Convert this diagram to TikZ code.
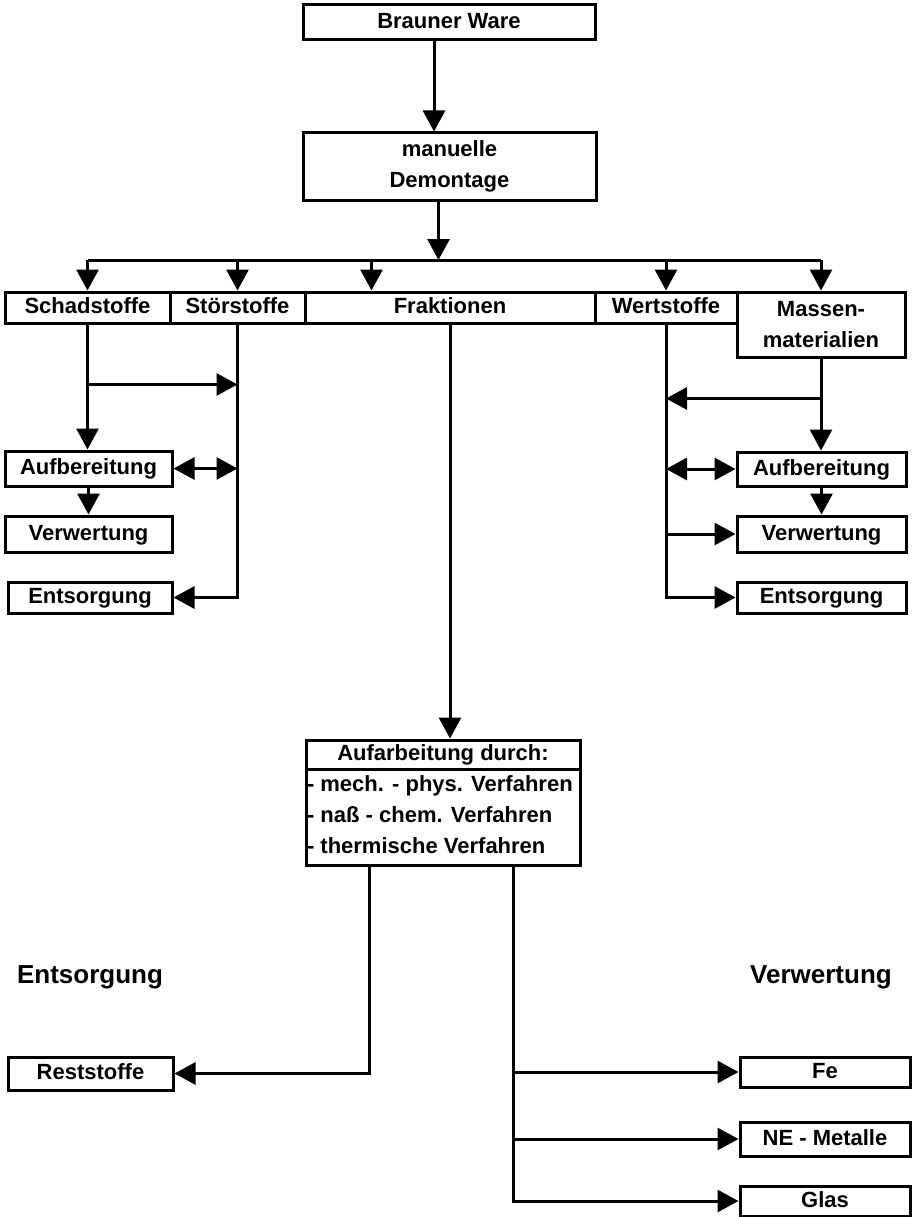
\documentclass[tikz,border=0pt]{standalone}
\usepackage{fontspec}
\setmainfont{Liberation Sans}
\usepackage{tikz}
\usetikzlibrary{arrows.meta, positioning, calc}

\begin{document}
\begin{tikzpicture}[
  x=1pt, y=-1pt,
  line width=3pt,
  txt/.style={font=\fontsize{22}{31}\selectfont\bfseries},
  box/.style={draw, line width=3pt, inner sep=2pt, align=center, txt},
  sbox/.style={box, text height=16pt, text depth=4pt},
  head/.style={font=\fontsize{26}{30}\selectfont\bfseries},
  arr/.style={-{Triangle[length=21pt,width=22pt]}},
  darr/.style={{Triangle[length=21pt,width=22pt]}-{Triangle[length=21pt,width=22pt]}}
]
  \useasboundingbox (0,0) rectangle (912,1217);

  % Nodes
  \node[sbox, minimum width=292, minimum height=35] (Brauner) at (449,22.5) {Brauner Ware};
  \node[box, minimum width=293, minimum height=67] (Demontage) at (449.5,166.5) {manuelle\\Demontage};

  \node[sbox, minimum width=165, minimum height=31] (Schad) at (87.5,307.5) {Schadstoffe};
  \node[sbox, minimum width=135, minimum height=31] (Stoer) at (237.5,307.5) {Störstoffe};
  \node[sbox, minimum width=290, minimum height=31] (Frak) at (450,307.5) {Fraktionen};
  \node[sbox, minimum width=142, minimum height=31] (Wert) at (666,307.5) {Wertstoffe};
  \node[box, minimum width=168, minimum height=65] (Massen) at (821,324.5) {Massen-\\materialien};

  \node[sbox, minimum width=167, minimum height=35] (AufL) at (88.5,468.5) {Aufbereitung};
  \node[sbox, minimum width=167, minimum height=36] (VerwL) at (88.5,534) {Verwertung};
  \node[sbox, minimum width=164, minimum height=31] (EntsL) at (90,597.5) {Entsorgung};

  \node[sbox, minimum width=169, minimum height=34] (AufR) at (821.5,469) {Aufbereitung};
  \node[sbox, minimum width=169, minimum height=36] (VerwR) at (821.5,534) {Verwertung};
  \node[sbox, minimum width=169, minimum height=31] (EntsR) at (821.5,597.5) {Entsorgung};

  \node[box, minimum width=274, minimum height=125] (Aufarb) at (443,802.5) {};
  \node[anchor=north, inner sep=4pt, txt, text height=16pt, text depth=4pt] (AufarbHead) at (Aufarb.north) {Aufarbeitung durch:};
  \node[anchor=north west, align=left, inner xsep=1pt, inner ysep=5pt, txt]
    (AufarbList) at (Aufarb.west |- AufarbHead.south)
    {- mech. - phys. Verfahren\\- naß - chem. Verfahren\\- thermische Verfahren};

  \node[head] (EntsHead) at (90,977) {Entsorgung};
  \node[head] (VerwHead) at (821,977) {Verwertung};

  \node[sbox, minimum width=165, minimum height=33] (Rest) at (90.5,1073.5) {Reststoffe};
  \node[sbox, minimum width=170, minimum height=30] (Fe) at (825,1072) {Fe};
  \node[sbox, minimum width=170, minimum height=34] (NE) at (825,1139) {NE - Metalle};
  \node[sbox, minimum width=170, minimum height=30] (Glas) at (825,1201) {Glas};

  % Helper points
  \coordinate (bus) at (0,260);
  \coordinate (bw) at ($(Brauner.south)+(-15,0)$);
  \coordinate (dm) at ($(Demontage.south)+(-11,0)$);
  \coordinate (fk) at ($(Frak.north west)+(68,0)$);
  \coordinate (mb) at ($(Massen.south)+(0,40)$);
  \coordinate (rl) at ($(Aufarb.south)+(-74,0)$);
  \coordinate (rr) at ($(Aufarb.south)+(70,0)$);

  % Top
  \draw[arr] (bw) -- (bw |- Demontage.north);
  \draw[arr] (dm) -- (dm |- bus);
  \draw (Schad.north |- bus) -- (Massen.north |- bus);
  \foreach \n in {Schad, Stoer, Wert, Massen}
    \draw[arr] (\n.north |- bus) -- (\n.north);
  \draw[arr] (fk |- bus) -- (fk);

  % Left side
  \draw[arr] (Schad.south) -- (Schad.south |- AufL.north);
  \draw[arr] ($(Schad.south)+(0,60)$) -- ($(Stoer.south)+(0,60)$);
  \draw[arr] (Stoer.south) |- (EntsL.east);
  \draw[darr] (AufL.east) -- (AufL.east -| Stoer.south);
  \draw[arr] (AufL.south) -- (VerwL.north);

  % Right side
  \draw[arr] (Wert.south) |- (EntsR.west);
  \draw[arr] (Wert.south |- VerwR.west) -- (VerwR.west);
  \draw[darr] (Wert.south |- AufR.west) -- (AufR.west);
  \draw[arr] (Massen.south) -- (Massen.south |- AufR.north);
  \draw[arr] (mb) -- (Wert.south |- mb);
  \draw[arr] (AufR.south) -- (VerwR.north);

  % Fraktionen
  \draw[arr] (Frak.south) -- (Frak.south |- Aufarb.north);
  \draw (Aufarb.west |- AufarbHead.south) -- (Aufarb.east |- AufarbHead.south);

  % Bottom
  \draw[arr] (rl) |- (Rest.east);
  \draw[arr] (rr) |- (Fe.west);
  \draw[arr] (rr) |- (NE.west);
  \draw[arr] (rr) |- (Glas.west);
\end{tikzpicture}
\end{document}
